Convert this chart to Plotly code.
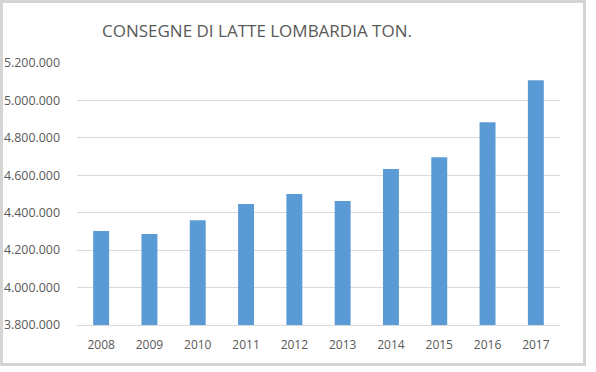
import plotly.graph_objects as go

years = ["2008", "2009", "2010", "2011", "2012", "2013", "2014", "2015", "2016", "2017"]
deliveries = [4302000, 4286000, 4360000, 4446000, 4500000, 4462000, 4633000, 4697000, 4883000, 5108000]
y_ticks = [3800000, 4000000, 4200000, 4400000, 4600000, 4800000, 5000000, 5200000]

W, H = 596, 372
L, R, T, B = 77, 36, 63, 47
pw, ph = W - L - R, H - T - B

def px(x):
    return (x - L) / pw

def py(y):
    return (H - B - y) / ph

fig = go.Figure(go.Bar(x=years, y=deliveries, marker_color="#5b9bd5", marker_line_width=0))

fig.update_layout(
    width=W, height=H,
    margin=dict(l=L, r=R, t=T, b=B, autoexpand=False),
    paper_bgcolor="white", plot_bgcolor="white",
    separators=",.",
    bargap=0.67,
    showlegend=False,
    title=dict(text="CONSEGNE DI LATTE LOMBARDIA TON.", x=257 / W, xref="container", xanchor="center",
               y=1 - 31 / H, yanchor="middle",
               font=dict(family="Open Sans", size=17, color="#595959")),
    font=dict(family="Open Sans", size=11, color="#595959"),
    xaxis=dict(showgrid=False, showline=True, linecolor="#d9d9d9", linewidth=1, ticks="",
               tickfont=dict(size=12, color="#595959"), ticklabelstandoff=9, automargin=False),
    yaxis=dict(range=[3800000, 5200000], tickvals=y_ticks, tickformat=",d",
               showgrid=True, gridcolor="#d9d9d9", gridwidth=1, zeroline=False, showline=False,
               ticks="", tickfont=dict(size=12.4, color="#595959"), ticklabelstandoff=16,
               automargin=False),
    shapes=[dict(type="rect", xref="paper", yref="paper",
                 x0=px(1.5), x1=px(584.5), y0=py(364.5), y1=py(1.5),
                 line=dict(color="#d4d4d4", width=3), fillcolor="rgba(0,0,0,0)", layer="below")],
)

fig.write_html("out.html", config={"displayModeBar": False},
               post_script="document.body.style.margin='0';document.body.style.padding='0';")
